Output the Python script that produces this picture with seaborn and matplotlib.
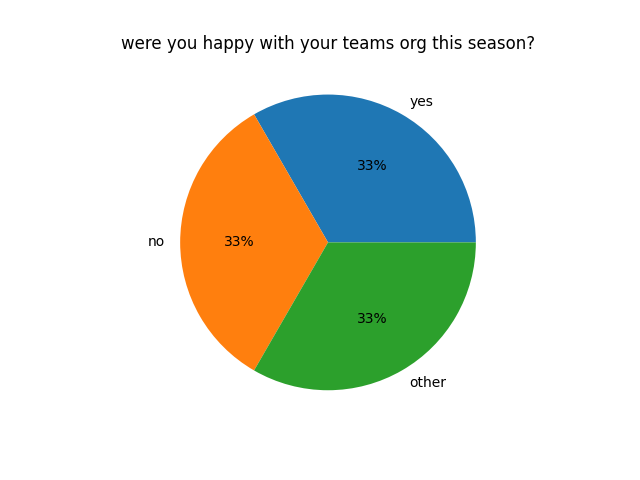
import matplotlib
matplotlib.use("Agg")
import matplotlib.pyplot as plt
import seaborn as sns

labels = ["yes", "no", "other"]
values = [1, 1, 1]

colors = sns.color_palette("tab10", 3)

fig, ax = plt.subplots(figsize=(6.4, 4.8), dpi=100)
ax.pie(values, labels=labels, colors=colors, autopct="%1.0f%%")
ax.set_title("were you happy with your teams org this season?")
fig.savefig("out.png")
